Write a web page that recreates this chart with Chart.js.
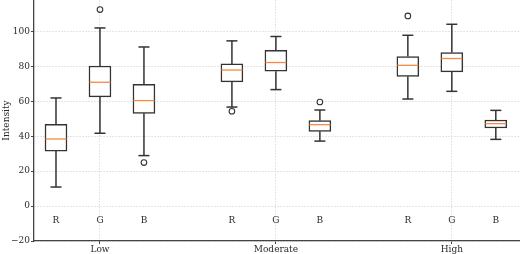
<!DOCTYPE html>
<html>
<head>
<meta charset="utf-8">
<script src="https://cdn.jsdelivr.net/npm/chart.js@4.4.0/dist/chart.umd.min.js"></script>
<style>body{margin:0;background:#fff}</style>
</head>
<body>
<canvas id="grafico" width="520" height="254"></canvas>
<script>
// dados (caixas na ordem Low R,G,B / Moderate R,G,B / High R,G,B)
const grupos = ['Low', 'Moderate', 'High'];
const canais = ['R', 'G', 'B'];
const posicoes = [1, 2, 3, 5, 6, 7, 9, 10, 11];
const posGrupos = [2, 6, 10];
const minimos = [10.9, 41.7, 28.9, 56.7, 66.7, 37.2, 61.3, 65.7, 38.2];
const quartil1 = [31.5, 62.5, 53.1, 71.1, 77.2, 42.8, 74.3, 76.8, 44.7];
const medianas = [38.4, 70.9, 60.4, 77.9, 82.2, 46.6, 80.6, 84.5, 47.2];
const quartil3 = [46.8, 80.2, 69.7, 81.4, 89.2, 48.9, 85.6, 87.9, 49.3];
const maximos = [61.9, 102.0, 91.1, 94.6, 97.1, 55.0, 97.8, 104.1, 54.8];
const outliersPos = [2, 3, 5, 7, 9];
const outliersVal = [112.5, 24.9, 54.3, 59.6, 108.9];
const yTicks = [-20, 0, 20, 40, 60, 80, 100];

const FONTE = 'DejaVu Serif';
const COR_TEXTO = '#2a2a2a';
const COR_CAIXA = '#333';
const COR_MEDIANA = '#f58a45';

const caixas = posicoes.map((p, i) => ({ x: p, y: [quartil1[i], quartil3[i]] }));
const linhasMedianas = posicoes.map((p, i) => ({ x: p, y: medianas[i] }));
const bigodes = [];
posicoes.forEach((p, i) => {
    bigodes.push({ x: p, y: quartil3[i] }, { x: p, y: maximos[i] }, { x: p, y: null });
    bigodes.push({ x: p, y: quartil1[i] }, { x: p, y: minimos[i] }, { x: p, y: null });
});
const tampas = [];
posicoes.forEach((p, i) => {
    tampas.push({ x: p, y: maximos[i] }, { x: p, y: minimos[i] });
});
const pontosOutliers = outliersPos.map((p, i) => ({ x: p, y: outliersVal[i] }));

// escreve R / G / B dentro da area do grafico
const letrasCanais = {
    id: 'letrasCanais',
    afterDatasetsDraw(chart) {
        const ctx = chart.ctx;
        const x = chart.scales.x;
        const y = chart.scales.y;
        ctx.save();
        ctx.font = '9px "' + FONTE + '"';
        ctx.fillStyle = COR_TEXTO;
        ctx.textAlign = 'center';
        ctx.textBaseline = 'middle';
        posicoes.forEach((p, i) => {
            ctx.fillText(canais[i % 3], x.getPixelForValue(p), y.getPixelForValue(-8.4));
        });
        ctx.restore();
    }
};

const semPadding = (scale) => {
    scale.paddingTop = 0;
    scale.paddingBottom = 0;
    scale.paddingLeft = 0;
    scale.paddingRight = 0;
};

new Chart(document.getElementById('grafico').getContext('2d'), {
    type: 'bar',
    data: {
        datasets: [
            {
                type: 'scatter',
                data: pontosOutliers,
                pointStyle: 'circle',
                pointRadius: 2.8,
                pointHoverRadius: 2.8,
                pointBorderWidth: 1.1,
                pointBorderColor: COR_CAIXA,
                pointBackgroundColor: 'rgba(0,0,0,0)',
                order: 1
            },
            {
                type: 'scatter',
                data: linhasMedianas,
                pointStyle: 'line',
                pointRadius: 10.5,
                pointHoverRadius: 10.5,
                pointBorderWidth: 1.3,
                pointBorderColor: COR_MEDIANA,
                order: 1
            },
            {
                type: 'scatter',
                data: tampas,
                pointStyle: 'line',
                pointRadius: 5.5,
                pointHoverRadius: 5.5,
                pointBorderWidth: 1.5,
                pointBorderColor: COR_CAIXA,
                order: 1
            },
            {
                type: 'line',
                data: bigodes,
                borderColor: COR_CAIXA,
                borderWidth: 1.5,
                pointRadius: 0,
                spanGaps: false,
                fill: false,
                order: 2
            },
            {
                type: 'bar',
                data: caixas,
                barThickness: 22,
                backgroundColor: '#fff',
                borderColor: COR_CAIXA,
                borderWidth: 1.5,
                borderSkipped: false,
                order: 3
            }
        ]
    },
    options: {
        responsive: false,
        devicePixelRatio: 1,
        animation: false,
        layout: { padding: 0, autoPadding: false },
        plugins: {
            legend: { display: false },
            tooltip: { enabled: false }
        },
        scales: {
            x: {
                type: 'linear',
                min: 0.5,
                max: 11.55,
                offset: false,
                afterBuildTicks: (scale) => { scale.ticks = posGrupos.map(v => ({ value: v })); },
                afterFit: (scale) => { scale.height = 13; semPadding(scale); },
                ticks: {
                    callback: (v) => grupos[posGrupos.indexOf(v)],
                    font: { family: FONTE, size: 9 },
                    color: COR_TEXTO,
                    padding: 0,
                    maxRotation: 0
                },
                grid: {
                    offset: false,
                    color: '#d4d4d4',
                    lineWidth: 0.8,
                    tickColor: '#444',
                    tickLength: 3,
                    tickWidth: 1
                },
                border: { color: '#444', width: 1.3, dash: [1.5, 1.5] }
            },
            y: {
                min: -20,
                max: 118,
                afterBuildTicks: (scale) => { scale.ticks = yTicks.map(v => ({ value: v })); },
                afterFit: (scale) => { scale.width = 34; semPadding(scale); },
                ticks: {
                    callback: (v) => v < 0 ? '\u2212' + Math.abs(v) : String(v),
                    font: { family: FONTE, size: 9 },
                    color: COR_TEXTO,
                    padding: 1
                },
                grid: {
                    color: '#d4d4d4',
                    lineWidth: 0.8,
                    tickColor: '#444',
                    tickLength: 3,
                    tickWidth: 1
                },
                border: { color: '#444', width: 1.3, dash: [1.5, 1.5] },
                title: {
                    display: true,
                    text: 'Intensity',
                    font: { family: FONTE, size: 9 },
                    color: COR_TEXTO,
                    padding: { top: 1, bottom: 0 }
                }
            }
        }
    },
    plugins: [letrasCanais]
});
</script>
</body>
</html>
